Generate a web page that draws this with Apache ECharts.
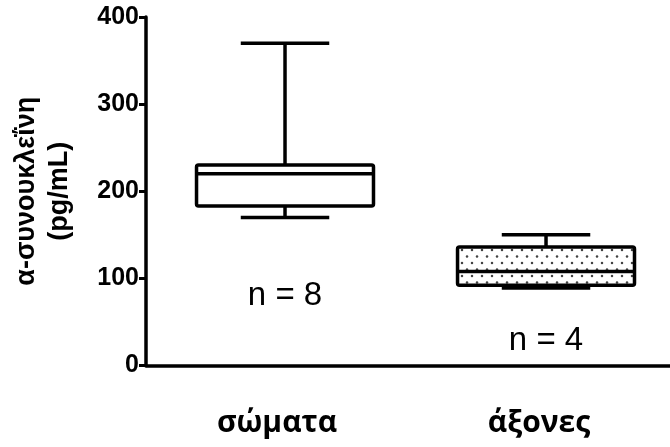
<!DOCTYPE html>
<html><head><meta charset="utf-8">
<script src="https://cdn.jsdelivr.net/npm/echarts@6/dist/echarts.min.js"></script>
<style>html,body{margin:0;padding:0;background:#fff}#c{width:670px;height:447px}</style>
</head><body><div id="c"></div>
<script>
// ---- data ----
const categories = ['σώματα', 'άξονες'];
const minVals = [170, 89];
const q1Vals = [183, 92];
const medianVals = [220, 108];
const q3Vals = [230, 136];
const maxVals = [370, 150];
const nLabels = ['n = 8', 'n = 4'];
const nLabelValues = [80, 28];
const yMin = 0, yMax = 400, yStep = 100;
const yName = 'α-συνουκλεΐνη\n(pg/mL)';

// ---- dotted fill pattern ----
function makeDots() {
  const c = document.createElement('canvas');
  c.width = 10; c.height = 13;
  const g = c.getContext('2d');
  g.fillStyle = '#fff'; g.fillRect(0, 0, 10, 13);
  g.fillStyle = '#444';
  [[2, 3], [7, 9.5]].forEach(p => { g.beginPath(); g.arc(p[0], p[1], 1.25, 0, Math.PI * 2); g.fill(); });
  return c;
}
const fills = ['#ffffff', { image: makeDots(), repeat: 'repeat' }];

const chart = echarts.init(document.getElementById('c'));
const seriesData = categories.map((c, i) => [i, minVals[i], q1Vals[i], medianVals[i], q3Vals[i], maxVals[i], nLabelValues[i]]);

const LW = 3.5;
chart.setOption({
  animation: false,
  backgroundColor: '#fff',
  grid: { left: 146, right: 0, top: 17, bottom: 81.5 },
  xAxis: [
    { type: 'category', data: categories,
      axisLine: { show: true, onZero: false, lineStyle: { color: '#000', width: 3.5 } }, axisTick: { show: false },
      axisLabel: { fontFamily: 'Open Sans', fontWeight: 'bold', fontSize: 30, color: '#000', margin: 43 } },
    { type: 'value', min: -0.5326, max: 1.475, show: false, splitLine: { show: false } }
  ],
  yAxis: {
    type: 'value', min: yMin, max: yMax, interval: yStep,
    axisLine: { show: true, onZero: false, lineStyle: { color: '#000', width: 3.5 } },
    axisTick: { show: true, length: 7, lineStyle: { color: '#000', width: 3 } },
    axisLabel: { fontFamily: 'Liberation Sans', fontWeight: 'bold', fontSize: 25, color: '#000', margin: 7 },
    splitLine: { show: false },
    name: yName, nameLocation: 'middle', nameRotate: 90, nameGap: 70,
    nameTextStyle: { fontFamily: 'Liberation Sans', fontWeight: 'bold', fontSize: 27, lineHeight: 33, color: '#000' }
  },
  series: [{
    type: 'custom', xAxisIndex: 1, yAxisIndex: 0,
    data: seriesData,
    encode: { x: 0, y: [1, 2, 3, 4, 5] },
    renderItem: function (params, api) {
      const i = api.value(0);
      const bw = api.size([1, 0])[0] * 0.678;
      const cx = api.coord([i, 0])[0];
      const pMin = api.coord([i, api.value(1)])[1];
      const pQ1 = api.coord([i, api.value(2)])[1];
      const pMed = api.coord([i, api.value(3)])[1];
      const pQ3 = api.coord([i, api.value(4)])[1];
      const pMax = api.coord([i, api.value(5)])[1];
      const pN = api.coord([i, api.value(6)])[1];
      const half = bw / 2, capHalf = bw / 4;
      const ls = { stroke: '#000', lineWidth: LW, fill: null };
      return {
        type: 'group', children: [
          { type: 'line', shape: { x1: cx, y1: pMax, x2: cx, y2: pQ3 }, style: ls },
          { type: 'line', shape: { x1: cx, y1: pQ1, x2: cx, y2: pMin }, style: ls },
          { type: 'line', shape: { x1: cx - capHalf, y1: pMax, x2: cx + capHalf, y2: pMax }, style: ls },
          { type: 'line', shape: { x1: cx - capHalf, y1: pMin, x2: cx + capHalf, y2: pMin }, style: ls },
          { type: 'rect', shape: { x: cx - half, y: pQ3, width: bw, height: pQ1 - pQ3, r: 2 },
            style: { fill: fills[params.dataIndex], stroke: '#000', lineWidth: LW } },
          { type: 'line', shape: { x1: cx - half, y1: pMed, x2: cx + half, y2: pMed }, style: ls },
          { type: 'text', x: cx, y: pN,
            style: { text: nLabels[params.dataIndex], fill: '#000', fontFamily: 'Liberation Sans', fontSize: 33,
                     align: 'center', verticalAlign: 'middle' } }
        ]
      };
    }
  }]
});
</script>
</body></html>
